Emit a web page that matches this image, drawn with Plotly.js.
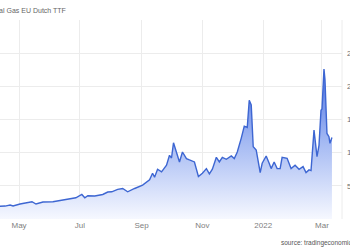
<!DOCTYPE html>
<html>
<head>
<meta charset="utf-8">
<script src="https://cdn.plot.ly/plotly-3.0.1.min.js"></script>
<style>
html,body{margin:0;padding:0;width:350px;height:250px;overflow:hidden;background:#fff;}
#chart{position:absolute;left:-40px;top:0;width:400px;height:250px;}
</style>
</head>
<body>
<div id="chart"></div>
<script>
const titleText = "Natural Gas EU Dutch TTF";
const sourceText = "source: tradingeconomics.com";

const dates = [
"2021-03-12","2021-03-20","2021-03-28","2021-04-05","2021-04-12","2021-04-17","2021-04-22","2021-04-25","2021-05-02","2021-05-08",
"2021-05-14","2021-05-18","2021-05-25","2021-06-04","2021-06-13","2021-06-21","2021-06-27","2021-07-03","2021-07-06","2021-07-09",
"2021-07-16","2021-07-24","2021-07-29","2021-08-02","2021-08-08","2021-08-13","2021-08-18","2021-08-25","2021-09-02","2021-09-09",
"2021-09-12","2021-09-14","2021-09-17","2021-09-21","2021-09-26","2021-09-29","2021-10-01","2021-10-03","2021-10-06","2021-10-09",
"2021-10-12","2021-10-16","2021-10-19","2021-10-24","2021-10-28","2021-11-01","2021-11-05","2021-11-08","2021-11-11","2021-11-15",
"2021-11-18","2021-11-21","2021-11-25","2021-11-30","2021-12-03","2021-12-06","2021-12-10","2021-12-13","2021-12-16","2021-12-18",
"2021-12-20","2021-12-22","2021-12-25","2021-12-29","2021-12-31","2022-01-04","2022-01-07","2022-01-09","2022-01-12","2022-01-15",
"2022-01-18","2022-01-20","2022-01-25","2022-01-29","2022-02-02","2022-02-06","2022-02-10","2022-02-13","2022-02-16","2022-02-18",
"2022-02-21","2022-02-24","2022-02-26","2022-02-28","2022-03-01","2022-03-03","2022-03-04","2022-03-06","2022-03-08","2022-03-09",
"2022-03-11"
];
const prices = [
17,17.5,18,18.2,18.5,19.5,21,19.6,22.6,24,
26,22.6,25.6,26,28.6,30,32,37,32,35,
34.7,37,40.7,41,44.7,46,41,46,51,59,
69,63,75,71,81,96,92,115,101,86,
101,91,89,86,64,69,76,68,75,93,
86,93,90,95,91,101,122,140,138,179,
172,109,104,70,84,95,84,76,86,76,
76,93,91.5,76,81,75,79,70,74,73,
134,94,111,164,166,226,210,129,124,114,
123
];
const yTickVals = [0,50,100,150,200,250,300];
const yTickText = ["","50","100","150","200","250",""];
const xTickVals = ["2021-05-01","2021-07-01","2021-09-01","2021-11-01","2022-01-01","2022-03-01"];
const xTickText = ["May","Jul","Sep","Nov","2022","Mar"];

const trace = {
  x: dates, y: prices, type: "scatter", mode: "lines",
  line: {color: "#3d66d2", width: 1.4},
  fill: "tozeroy",
  fillgradient: {type: "vertical", start: 0, stop: 230,
    colorscale: [[0, "rgba(246,248,255,1)"], [0.5, "rgba(165,186,243,1)"], [1, "rgba(72,110,226,1)"]]},
  hoverinfo: "skip"
};

const layout = {
  width: 400, height: 250,
  margin: {l: 9, r: 18, t: 20, b: 31},
  paper_bgcolor: "#fff", plot_bgcolor: "#fff",
  showlegend: false,
  font: {family: "Liberation Sans, Arial, sans-serif", size: 8, color: "#777"},
  xaxis: {
    type: "date",
    range: ["2021-03-11 19:00", "2022-03-21 02:00"],
    tickvals: xTickVals, ticktext: xTickText,
    showgrid: true, gridcolor: "#ececec", gridwidth: 1,
    zeroline: false, showline: false, ticks: "",
    tickfont: {size: 8, color: "#808080"}
  },
  yaxis: {
    range: [0, 300], side: "right",
    tickvals: yTickVals, ticktext: yTickText,
    showgrid: true, gridcolor: "#ececec", gridwidth: 1,
    zeroline: false, showline: false, ticks: "",
    ticklabelstandoff: 4,
    tickfont: {size: 8, color: "#707070"}
  },
  shapes: [
    {type: "line", xref: "paper", yref: "paper", x0: 1, x1: 1, y0: 0, y1: 1, line: {color: "#ececec", width: 1}}
  ],
  annotations: [
    {text: titleText, xref: "paper", yref: "paper", x: 0, y: 1, xshift: 11, yshift: 10,
     xanchor: "left", yanchor: "middle", showarrow: false, font: {size: 7, color: "#666"}},
    {text: sourceText, xref: "paper", yref: "paper", x: 0, y: 0, xshift: 310, yshift: -24,
     xanchor: "left", yanchor: "middle", showarrow: false, font: {size: 6.5, color: "#555"}}
  ]
};

Plotly.newPlot("chart", [trace], layout, {staticPlot: true, displayModeBar: false});
</script>
</body>
</html>
